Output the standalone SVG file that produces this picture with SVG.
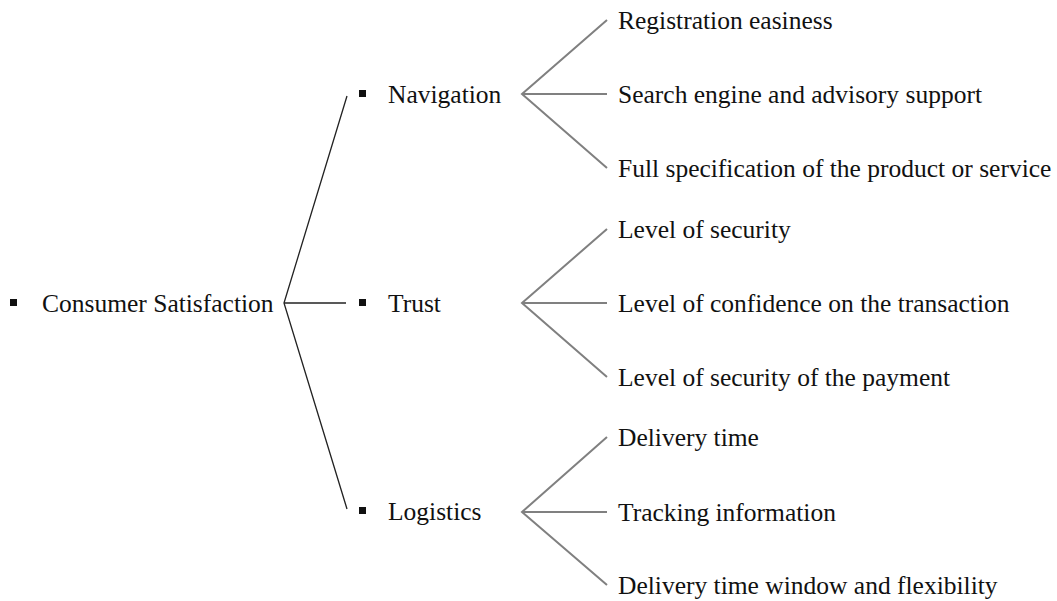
<svg xmlns="http://www.w3.org/2000/svg" width="1057" height="601" viewBox="0 0 1057 601">
  <style>
    text { font-family: "Liberation Serif", "Times New Roman", serif; font-size: 25.5px; fill: #111; }
    .bullet { fill: #111; }
    .trunk { stroke: #222; stroke-width: 1.3; fill: none; }
    .fork { stroke: #808080; stroke-width: 2; fill: none; }
  </style>
  <rect width="1057" height="601" fill="#fff"/>

  <g id="connectors">
    <!-- root to the three dimensions -->
    <path class="trunk" d="M347 96 L284 303 L347 509"/>
    <path class="trunk" d="M284 303 H346"/>
    <!-- Navigation fork -->
    <path class="fork" d="M607 20 L522 94 L607 168 M522 94 H607"/>
    <!-- Trust fork -->
    <path class="fork" d="M607 229 L522 303 L607 377 M522 303 H607"/>
    <!-- Logistics fork -->
    <path class="fork" d="M607 437 L522 512 L607 585 M522 512 H607"/>
  </g>

  <g id="consumer-satisfaction">
    <rect class="bullet" x="10" y="299" width="7" height="7"/>
    <text x="42" y="312">Consumer Satisfaction</text>
  </g>

  <g id="navigation">
    <rect class="bullet" x="359" y="90" width="7" height="7"/>
    <text x="388" y="103">Navigation</text>
  </g>
  <g id="trust">
    <rect class="bullet" x="359" y="299" width="7" height="7"/>
    <text x="388" y="312">Trust</text>
  </g>
  <g id="logistics">
    <rect class="bullet" x="359" y="507" width="7" height="7"/>
    <text x="388" y="520">Logistics</text>
  </g>

  <g id="registration-easiness"><text x="618" y="29">Registration easiness</text></g>
  <g id="search-engine"><text x="618" y="103">Search engine and advisory support</text></g>
  <g id="full-specification"><text x="618" y="177">Full specification of the product or service</text></g>

  <g id="level-of-security"><text x="618" y="238">Level of security</text></g>
  <g id="level-of-confidence"><text x="618" y="312">Level of confidence on the transaction</text></g>
  <g id="payment-security"><text x="618" y="386">Level of security of the payment</text></g>

  <g id="delivery-time"><text x="618" y="446">Delivery time</text></g>
  <g id="tracking-information"><text x="618" y="521">Tracking information</text></g>
  <g id="delivery-window"><text x="618" y="594">Delivery time window and flexibility</text></g>
</svg>
